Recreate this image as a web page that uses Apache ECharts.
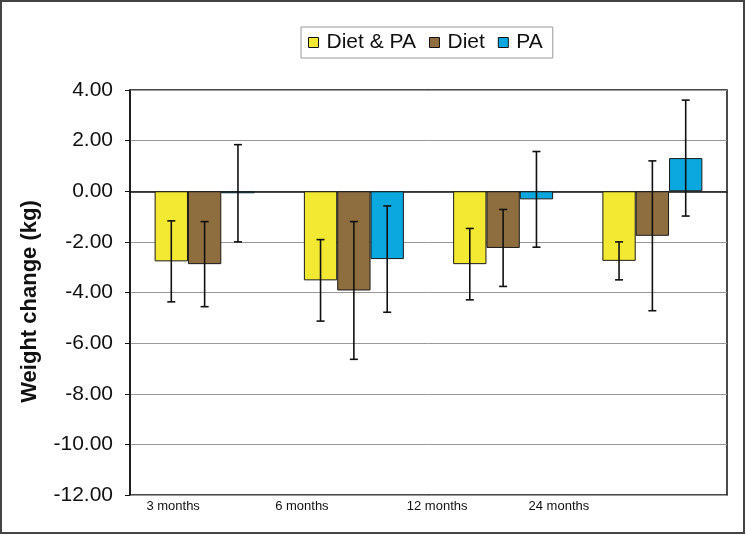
<!DOCTYPE html>
<html>
<head>
<meta charset="utf-8">
<script src="https://cdn.jsdelivr.net/npm/echarts@6/dist/echarts.min.js"></script>
<style>
html,body{margin:0;padding:0;background:#fff;}
#chart{width:746px;height:535px;}
</style>
</head>
<body>
<div id="chart"></div>
<script>
// ---- data ----
var categories = ['3 months', '6 months', '12 months', '24 months'];
var seriesNames = ['Diet & PA', 'Diet', 'PA'];
var dietPA    = [-2.77, -3.52, -2.88, -2.75];
var diet      = [-2.88, -3.92, -2.24, -1.76];
var pa        = [-0.08, -2.68, -0.32,  1.31];
var dietPAErr = [1.60, 1.61, 1.41, 0.75];
var dietErr   = [1.68, 2.72, 1.52, 2.96];
var paErr     = [1.92, 2.10, 1.89, 2.29];
var yTicks    = [-12, -10, -8, -6, -4, -2, 0, 2, 4];

var colors = ['#F3E933', '#8E6D3F', '#0AA8DF'];
var catGap = 0.33;
var labelShift = [63, 104, 132, 187];

var chart = echarts.init(document.getElementById('chart'), null, {renderer: 'canvas'});

function barSeries(name, values, color) {
  return {
    name: name,
    type: 'bar',
    data: values,
    barGap: '0%',
    barCategoryGap: (catGap * 100) + '%',
    itemStyle: {color: color, borderColor: '#1a1a1a', borderWidth: 1},
    z: 2
  };
}

function errSeries(idx, means, errs) {
  return {
    name: 'err' + idx,
    type: 'custom',
    z: 5,
    encode: {x: 0, y: [1, 2]},
    data: means.map(function (m, i) { return [i, m - errs[i], m + errs[i]]; }),
    renderItem: function (params, api) {
      var i = api.value(0);
      var lo = api.coord([i, api.value(1)]);
      var hi = api.coord([i, api.value(2)]);
      var band = api.size([1, 0])[0];
      var bw = band * (1 - catGap) / 3;
      var x = lo[0] + (idx - 1) * bw;
      var cap = 4;
      var st = {stroke: '#111', lineWidth: 1.6};
      return {
        type: 'group',
        children: [
          {type: 'line', shape: {x1: x, y1: lo[1], x2: x, y2: hi[1]}, style: st},
          {type: 'line', shape: {x1: x - cap, y1: lo[1], x2: x + cap, y2: lo[1]}, style: st},
          {type: 'line', shape: {x1: x - cap, y1: hi[1], x2: x + cap, y2: hi[1]}, style: st}
        ]
      };
    }
  };
}

var rich = {};
labelShift.forEach(function (s, i) {
  rich['c' + i] = {padding: [0, s, 0, 0], fontSize: 13, fontFamily: 'Liberation Sans', color: '#111'};
});

var option = {
  animation: false,
  backgroundColor: '#fff',
  textStyle: {fontFamily: 'Liberation Sans'},
  graphic: [{
    type: 'rect',
    shape: {x: 1, y: 1, width: 743, height: 532},
    style: {fill: 'none', stroke: '#444', lineWidth: 2},
    silent: true
  }],
  legend: {
    data: seriesNames,
    left: 301,
    top: 27,
    orient: 'horizontal',
    padding: [5, 10, 5, 7],
    itemGap: 13,
    itemWidth: 10,
    itemHeight: 10,
    icon: 'rect',
    borderColor: '#999',
    borderWidth: 1,
    itemStyle: {borderColor: '#111', borderWidth: 1},
    textStyle: {fontSize: 21, fontFamily: 'Liberation Sans', color: '#111', padding: [0, 0, 0, 3]}
  },
  grid: {
    left: 130, right: 19, top: 90, bottom: 40,
    show: true, borderColor: '#111', borderWidth: 1.5,
    containLabel: false
  },
  xAxis: {
    type: 'category',
    data: categories,
    axisLine: {show: true, lineStyle: {color: '#111', width: 1.5}},
    axisTick: {show: false},
    splitLine: {show: false},
    axisLabel: {
      interval: 0,
      margin: 5,
      formatter: function (v, i) { return '{c' + i + '|' + v + '}'; },
      rich: rich
    }
  },
  yAxis: {
    type: 'value',
    min: yTicks[0],
    max: yTicks[yTicks.length - 1],
    interval: 2,
    name: 'Weight change (kg)',
    nameLocation: 'middle',
    nameRotate: 90,
    nameGap: 89,
    nameTextStyle: {fontSize: 22, fontWeight: 'bold', fontFamily: 'Liberation Sans', color: '#111', padding: [0, 18, 0, 0]},
    axisLine: {show: true, lineStyle: {color: '#111', width: 1.5}},
    axisTick: {show: true, inside: false, length: 5, lineStyle: {color: '#111', width: 1}},
    splitLine: {show: true, lineStyle: {color: '#999', width: 1}},
    axisLabel: {
      margin: 17,
      fontSize: 21,
      fontFamily: 'Liberation Sans',
      color: '#111',
      formatter: function (v) { return v.toFixed(2); }
    }
  },
  series: [
    barSeries(seriesNames[0], dietPA, colors[0]),
    barSeries(seriesNames[1], diet, colors[1]),
    barSeries(seriesNames[2], pa, colors[2]),
    errSeries(0, dietPA, dietPAErr),
    errSeries(1, diet, dietErr),
    errSeries(2, pa, paErr)
  ]
};
chart.setOption(option);
</script>
</body>
</html>
